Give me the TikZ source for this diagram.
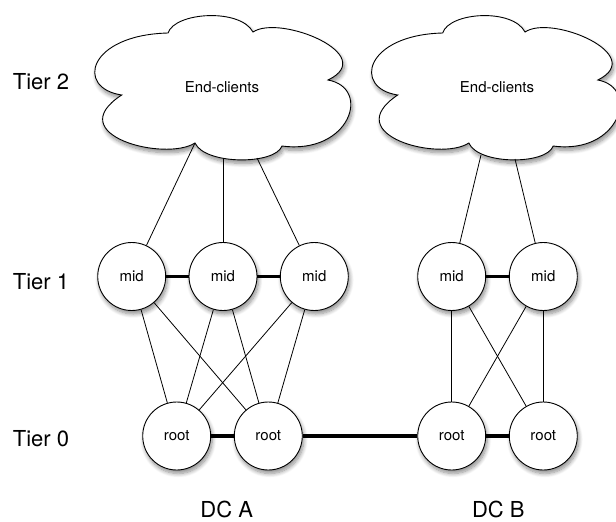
\documentclass[tikz,border=0pt]{standalone}
\usepackage{fontspec}
\setmainfont{TeX Gyre Heros}
\usetikzlibrary{shadows.blur}
\begin{document}
\begin{tikzpicture}[x=1pt,y=-1pt,
  sh/.style={blur shadow={shadow xshift=1.5pt, shadow yshift=-3.5pt, shadow blur radius=4pt, shadow blur steps=8, shadow opacity=45}},
  nd/.style={circle, draw, line width=0.9pt, fill=white, minimum size=68pt, inner sep=0pt, font=\fontsize{15}{18}\selectfont, sh},
  cloudline/.style={draw, line width=0.9pt, fill=white, sh},
  cloudtext/.style={font=\fontsize{15}{18}\selectfont},
  lbl/.style={font=\fontsize{22}{26}\selectfont},
  link/.style={line width=0.8pt},
  trunk/.style={line width=3.6pt},
  cloudpic/.pic={
    \path[cloudline] (-100.3,8)
      .. controls (-147,1) and (-134,-52) .. (-54,-54)
      .. controls (-47,-75) and (18,-79) .. (31,-55)
      .. controls (58,-73) and (158,-32) .. (106,-7)
      .. controls (150,1) and (128,68) .. (60,59)
      .. controls (53,78) and (-17,78) .. (-27,56)
      .. controls (-57,75) and (-162,48) .. cycle;
  }]
\useasboundingbox (0,0) rectangle (616,522);
% clouds
\pic at (222,87) {cloudpic};
\pic[xscale=0.97] at (495,87) {cloudpic};
\node[cloudtext] (ec1) at (222,87) {End-clients};
\node[cloudtext] (ec2) at (497,87) {End-clients};
% cloud anchor points
\coordinate (c1a) at (195,143);
\coordinate (c1b) at (223,158);
\coordinate (c1c) at (257,158);
\coordinate (c2a) at (481,155);
\coordinate (c2b) at (515,159);
% nodes
\node[nd] (m1) at (131.7,276.5) {mid};
\node[nd] (m2) at (223,276.5) {mid};
\node[nd] (m3) at (314.3,276.5) {mid};
\node[nd] (m4) at (451.7,276.5) {mid};
\node[nd] (m5) at (543.3,276.5) {mid};
\node[nd] (r1) at (176.7,436) {root};
\node[nd] (r2) at (268.3,436) {root};
\node[nd] (r3) at (451.7,436) {root};
\node[nd] (r4) at (543.3,436) {root};
% labels
\node[lbl] (t2) at (41,82) {Tier 2};
\node[lbl] (t1) at (41,282) {Tier 1};
\node[lbl] (t0) at (41,438.5) {Tier 0};
\node[lbl, anchor=base, inner sep=0pt] (dca) at (226.7,517) {DC A};
\node[lbl, anchor=base, inner sep=0pt] (dcb) at (498.3,517) {DC B};
% cloud connectors
\draw[link] (c1a) -- (m1);
\draw[link] (c1b) -- (m2);
\draw[link] (c1c) -- (m3);
\draw[link] (c2a) -- (m4);
\draw[link] (c2b) -- (m5);
% mid-root links
\foreach \m in {m1,m2,m3} {
  \draw[link] (\m) -- (r1);
  \draw[link] (\m) -- (r2);
}
\foreach \m in {m4,m5} {
  \draw[link] (\m) -- (r3);
  \draw[link] (\m) -- (r4);
}
% trunks
\draw[trunk] (m1) -- (m2);
\draw[trunk] (m2) -- (m3);
\draw[trunk] (m4) -- (m5);
\draw[trunk] (r1) -- (r2);
\draw[trunk] (r2) -- (r3);
\draw[trunk] (r3) -- (r4);
\end{tikzpicture}
\end{document}
